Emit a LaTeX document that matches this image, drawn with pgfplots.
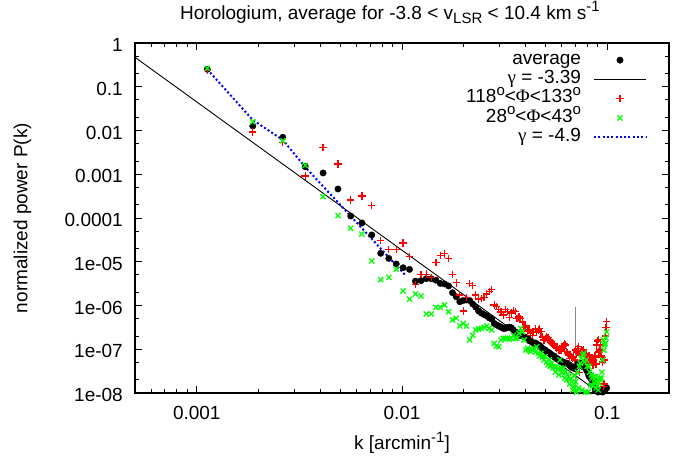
\documentclass[border=0pt]{standalone}
\usepackage{fontspec}
\setmainfont{Liberation Sans}
\newfontfamily\symf{Liberation Serif}
\usepackage{pgfplots}
\usepackage{pgfplotstable}
\pgfplotsset{compat=1.18}
\definecolor{gred}{RGB}{255,0,0}
\definecolor{ggreen}{RGB}{0,255,0}
\definecolor{gblue}{RGB}{0,0,255}
\definecolor{ggray}{RGB}{140,140,140}
\newcommand\mysup[1]{\raisebox{0.38em}{\fontsize{15}{15}\selectfont #1}}
\newcommand\mysub[1]{\raisebox{-0.25em}{\fontsize{15}{15}\selectfont #1}}

\pgfplotstableread{
k avg red green
0.001125 2.51e-1 2.33e-1 2.64e-1
0.001875 1.27e-2 9.2e-3 1.59e-2
0.002625 7.0e-3 5.3e-3 5.8e-3
0.003375 1.49e-3 9.1e-4 1.6e-3
0.004125 1.07e-3 4.1e-3 3.07e-4
0.004875 4.6e-4 1.71e-3 1.14e-4
0.005625 1.11e-4 2.6e-4 5.8e-5
0.006375 7.7e-5 3.2e-4 4.3e-5
0.007125 4.1e-5 1.95e-4 1.04e-5
0.007875 1.56e-5 3.1e-5 3.9e-6
0.008625 1.19e-5 1.93e-5 4.4e-6
0.009375 8.9e-6 1.93e-5 6.8e-6
0.010125 7.3e-6 2.7e-5 2.14e-6
0.010875 6.7e-6 1.3e-5 1.39e-6
0.011625 3.6e-6 3.0e-6 1.83e-6
0.012375 3.7e-6 5.1e-6 1.65e-6
0.013125 4.1e-6 5.2e-6 6.4e-7
0.013875 4.1e-6 4.3e-6 6.4e-7
0.014625 3.8e-6 9.5e-6 9.1e-7
0.015375 3.2e-6 1.37e-5 9.1e-7
0.016125 3.1e-6 1.52e-5 1.03e-6
0.016875 2.8e-6 1.18e-5 7.2e-7
0.017625 1.96e-6 5.1e-6 4.7e-7
0.018375 1.59e-6 3.3e-6 5.1e-7
0.019125 1.22e-6 1.74e-6 3.4e-7
0.019875 1.30e-6 7.5e-7 3.9e-7
0.020625 1.34e-6 1.54e-6 3.4e-7
0.021375 1.30e-6 3.2e-6 1.63e-7
0.022125 1.08e-6 2.9e-6 2.1e-7
0.022875 9.2e-7 1.74e-6 2.75e-7
0.023625 7.5e-7 1.41e-6 2.9e-7
0.024375 6.7e-7 1.46e-6 3.0e-7
0.025125 6.2e-7 1.54e-6 3.15e-7
0.025875 5.8e-7 1.83e-6 3.4e-7
0.026625 5.2e-7 2.07e-6 3.0e-7
0.027375 4.9e-7 2.3e-6 2.75e-7
0.028125 3.9e-7 1.03e-6 1.37e-7
0.028875 3.6e-7 9.5e-7 1.19e-7
0.029625 3.4e-7 8.2e-7 1.14e-7
0.030375 3.2e-7 7.1e-7 1.63e-7
0.031125 3.0e-7 6.1e-7 1.78e-7
0.031875 3.0e-7 8.2e-7 1.78e-7
0.032625 3.14e-7 7.2e-7 1.78e-7
0.033375 3.2e-7 5.4e-7 1.69e-7
0.034125 3.1e-7 6.7e-7 1.78e-7
0.034875 2.75e-7 7.7e-7 2.1e-7
0.035625 2.5e-7 7.2e-7 1.78e-7
0.036375 2.35e-7 5.1e-7 1.78e-7
0.037125 2.1e-7 5.5e-7 2.3e-7
0.037875 2.06e-7 5.1e-7 3.0e-7
0.038625 2.0e-7 4.2e-7 2.5e-7
0.039375 1.94e-7 3.2e-7 1.63e-7
0.040125 1.81e-7 3.4e-7 9.6e-8
0.040875 1.78e-7 2.5e-7 1.05e-7
0.041625 1.57e-7 2.75e-7 9.6e-8
0.042375 1.55e-7 2.35e-7 8.8e-8
0.043125 1.43e-7 2.1e-7 9.6e-8
0.043875 1.37e-7 2.5e-7 1.05e-7
0.044625 1.39e-7 2.9e-7 8.6e-8
0.045375 1.32e-7 2.45e-7 1.14e-7
0.046125 1.25e-7 2.75e-7 8.1e-8
0.046875 1.22e-7 3.0e-7 7.0e-8
0.047625 1.12e-7 2.5e-7 8.1e-8
0.048375 1.04e-7 1.9e-7 6.7e-8
0.049125 9.9e-8 1.63e-7 5.7e-8
0.049875 9.6e-8 1.78e-7 6.8e-8
0.050625 8.9e-8 1.94e-7 5.1e-8
0.051375 8.6e-8 1.87e-7 4.4e-8
0.052125 8.3e-8 1.69e-7 5.7e-8
0.052875 7.8e-8 1.47e-7 4.1e-8
0.053625 7.4e-8 1.37e-7 4.8e-8
0.054375 7.0e-8 1.32e-7 3.7e-8
0.055125 7.0e-8 1.25e-7 4.0e-8
0.055875 6.5e-8 1.14e-7 3.0e-8
0.056625 6.2e-8 1.07e-7 4.0e-8
0.057375 6.0e-8 1.12e-7 3.4e-8
0.058125 5.7e-8 9.6e-8 2.6e-8
0.058875 5.5e-8 1.01e-7 5.7e-8
0.059625 5.4e-8 9.6e-8 3.7e-8
0.060375 5.2e-8 1.07e-7 2.9e-8
0.061125 5.0e-8 1.19e-7 3.65e-8
0.061875 4.95e-8 1.32e-7 2.2e-8
0.062625 4.7e-8 1.25e-7 3.0e-8
0.063375 4.85e-8 8.8e-8 2.0e-8
0.064125 4.6e-8 8.2e-8 2.7e-8
0.064875 4.5e-8 7.4e-8 2.36e-8
0.065625 4.3e-8 6.2e-8 1.6e-8
0.066375 4.1e-8 7.4e-8 2.1e-8
0.067125 3.9e-8 6.7e-8 1.8e-8
0.067875 3.8e-8 6.2e-8 1.17e-8
0.068625 3.7e-8 6.7e-8 1.39e-8
0.069375 3.65e-8 5.7e-8 2.45e-8
0.070125 3.9e-8 9.6e-8 1.8e-8
0.070875 4.4e-8 8.6e-8 1.05e-8
0.071625 4.6e-8 1.05e-7 3.0e-8
0.072375 4.7e-8 1.14e-7 1.3e-8
0.073125 4.85e-8 2.9e-8 4.1e-8
0.073875 4.8e-8 8.1e-8 4.8e-8
0.074625 4.4e-8 7.4e-8 6.3e-8
0.075375 4.1e-8 9.1e-8 1.17e-8
0.076125 4.6e-8 8.6e-8 7.4e-8
0.076875 4.1e-8 9.6e-8 8.1e-8
0.077625 4.0e-8 7.8e-8 5.1e-8
0.078375 3.9e-8 6.8e-8 1.05e-8
0.079125 3.4e-8 5.7e-8 5.7e-8
0.079875 3.2e-8 5.1e-8 4.1e-8
0.080625 2.9e-8 6.3e-8 1.05e-8
0.081375 2.45e-8 7.0e-8 4.0e-8
0.082125 2.6e-8 4.6e-8 3.0e-8
0.082875 2.2e-8 6.3e-8 1.5e-8
0.083625 2.3e-8 5.1e-8 2.6e-8
0.084375 2.0e-8 6.55e-8 2.2e-8
0.085125 1.7e-8 4.4e-8 1.45e-8
0.085875 2.0e-8 5.7e-8 2.36e-8
0.086625 1.5e-8 7.0e-8 1.7e-8
0.087375 1.17e-8 6.7e-8 2.36e-8
0.088125 1.3e-8 4.6e-8 1.3e-8
0.088875 1.11e-8 1.25e-7 1.8e-8
0.089625 1.17e-8 1.55e-7 1.5e-8
0.090375 1.05e-8 1.69e-7 1.17e-8
0.091125 nan 8.6e-8 1.69e-8
0.091875 1.11e-8 9.6e-8 2.2e-8
0.092625 nan 1.25e-7 2.0e-8
0.093375 1.13e-8 7.0e-8 2.2e-8
0.094125 1.17e-8 6.55e-8 3.0e-8
0.094875 1.05e-8 5.1e-8 5.7e-8
0.095625 nan 1.39e-8 1.63e-7
0.096375 nan 1.6e-8 9.6e-8
0.097125 1.23e-8 5.7e-8 1.25e-7
0.097875 1.3e-8 2.0e-7 1.37e-7
0.098625 1.35e-8 3.1e-7 1.81e-7
0.099375 1.3e-8 4.3e-7 2.5e-7
}\spectra

\begin{document}
\fontsize{19}{22}\selectfont
\begin{tikzpicture}[x=1pt,y=1pt]
\useasboundingbox (0,0) rectangle (692,461);
\begin{axis}[
  at={(135pt,68pt)}, anchor=south west,
  scale only axis, width=534pt, height=350pt,
  xmode=log, ymode=log,
  xmin=0.0005, xmax=0.2, ymin=1e-8, ymax=1,
  xtick={0.001,0.01,0.1}, xticklabels={0.001,0.01,0.1},
  minor xtick={0.0006,0.0007,0.0008,0.0009,0.002,0.003,0.004,0.005,0.006,0.007,0.008,0.009,0.02,0.03,0.04,0.05,0.06,0.07,0.08,0.09},
  ytick={1e-8,1e-7,1e-6,1e-5,1e-4,1e-3,1e-2,1e-1,1},
  yticklabels={1e-08,1e-07,1e-06,1e-05,0.0001,0.001,0.01,0.1,1},
  minor ytick={2e-8,5e-8,2e-7,5e-7,2e-6,5e-6,2e-5,5e-5,2e-4,5e-4,2e-3,5e-3,2e-2,5e-2,2e-1,5e-1},
  tick align=inside,
  major tick length=7pt, minor tick length=4pt,
  every tick/.style={black, line width=1pt},
  axis line style={line width=1.2pt},
  xticklabel style={anchor=base, yshift=-26.5pt, inner sep=0pt},
  yticklabel style={anchor=east, xshift=-12pt, yshift=-2pt, inner sep=0pt},
  title={Horologium, average for -3.8 < v\mysub{LSR} < 10.4 km s\mysup{-1}},
  title style={at={(axis description cs:0.4775,1.0514)}, anchor=base, inner sep=0pt},
  xlabel={k [arcmin\mysup{-1}]},
  xlabel style={at={(axis description cs:0.5,-0.143)}, anchor=center, inner sep=0pt},
  ylabel={normalized power P(k)},
  ylabel style={at={(axis description cs:-0.2107,0.5)}, anchor=center, inner sep=0pt},
  clip=false,
  legend plot pos=right,
  legend cell align=right,
  legend image code/.code={\draw[mark repeat=2,mark phase=2,#1] plot coordinates {(0pt,0pt) (26pt,0pt) (52pt,0pt)};},
  legend style={draw=none, fill=none, at={(axis description cs:0.9588,0.9786)}, anchor=north east,
    inner sep=0pt, outer sep=0pt, row sep=0pt, column sep=12pt,
    nodes={inner sep=0pt, text height=13.8pt, text depth=5.5pt}},
]
\addplot[only marks, mark=*, mark size=3.2pt, black, mark options={fill=black}] table[x=k, y=avg] {\spectra};
\addlegendentry{average}
\addplot[black, line width=0.9pt] coordinates {(0.0005,0.471) (0.0918,1e-8)};
\addlegendentry{{\symf γ} = -3.39}
\addplot[only marks, mark=+, mark size=3.7pt, gred, line width=1.3pt] table[x=k, y=red] {\spectra};
\addlegendentry{118\mysup{o}<{\symf Φ}<133\mysup{o}}
\addplot[only marks, mark=x, mark size=3.6pt, ggreen, line width=1.3pt] table[x=k, y=green] {\spectra};
\addlegendentry{28\mysup{o}<{\symf Φ}<43\mysup{o}}
\addplot[gblue, line width=2pt, dash pattern=on 2pt off 2.3pt] coordinates {(0.001125,0.25) (0.001875,1.74e-2) (0.002625,6.1e-3) (0.003375,1.465e-3) (0.01037,4.98e-6)};
\addlegendentry{{\symf γ} = -4.9}
\addplot[ggray, line width=1.3pt, forget plot] coordinates {(0.0702,9.4e-7) (0.0702,1e-8)};
\end{axis}
\end{tikzpicture}
\end{document}
